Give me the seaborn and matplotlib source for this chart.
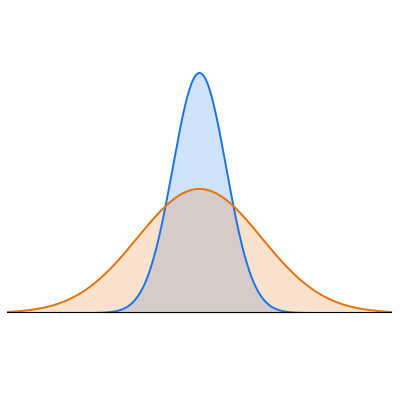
import numpy as np
import pandas as pd
import seaborn as sns
import matplotlib.pyplot as plt

# two bell curves: same centre, orange wider and lower
names = ['narrow', 'wide']
means = [0.0, 0.0]
sigmas = [0.43, 1.0]
peaks = [1.0, 0.517]
line_colors = ['#1a73e8', '#e8710a']
x_range = [-3.1, 3.1]

def bell(x, mu, s, h):
    return h * np.exp(-0.5 * ((x - mu) / s) ** 2)

x = np.linspace(x_range[0], x_range[1], 600)
frames = []
for name, mu, s, h in zip(names, means, sigmas, peaks):
    frames.append(pd.DataFrame({'x': x, 'y': bell(x, mu, s, h), 'curve': name}))
df = pd.concat(frames, ignore_index=True)

sns.set_style('white')
fig = plt.figure(figsize=(4, 4), dpi=100)
ax = fig.add_axes([7 / 400, 87 / 400, 385 / 400, 256 / 400])

for name, col in zip(names, line_colors):
    d = df[df['curve'] == name]
    ax.fill_between(d['x'], d['y'], color=col, alpha=0.2, linewidth=0)
sns.lineplot(data=df, x='x', y='y', hue='curve', palette=line_colors,
             linewidth=1.4, legend=False, ax=ax)

ax.axhline(0, color='black', linewidth=1.5)
ax.set_xlim(x_range)
ax.set_ylim(0, 256 / 240)
ax.set_axis_off()

plt.savefig('out.png', dpi=100)
